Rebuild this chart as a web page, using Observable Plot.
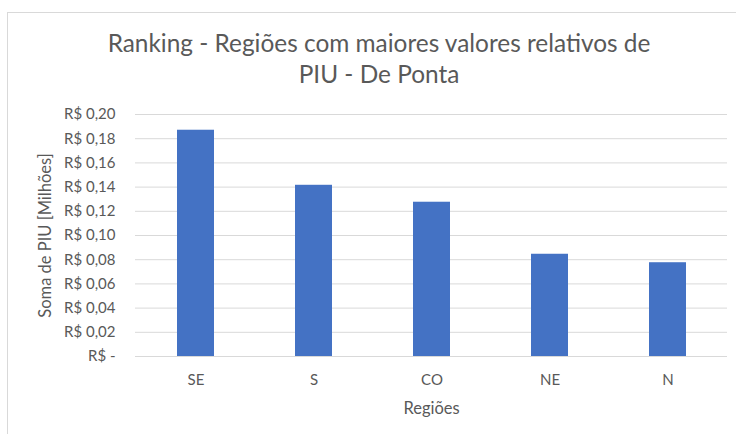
<!DOCTYPE html>
<html>
<head>
<meta charset="utf-8">
<script src="https://cdn.jsdelivr.net/npm/d3@7"></script>
<script src="https://cdn.jsdelivr.net/npm/@observablehq/plot@0.6"></script>
<style>
  html, body { margin: 0; padding: 0; background: #fff; }
  #wrap { position: relative; width: 736px; height: 434px; overflow: hidden; font-family: Lato, "Open Sans", sans-serif; }
  #frame { position: absolute; left: 7px; top: 12px; width: 760px; height: 440px; border-left: 1px solid #d9d9d9; border-top: 1px solid #d9d9d9; }
  #title { position: absolute; left: 7px; width: 744px; top: 27px; text-align: center; color: #595959; font-size: 24.4px; line-height: 31px; }
  #chart { position: absolute; left: 0; top: 0; }
</style>
</head>
<body>
<div id="wrap">
  <div id="frame"></div>
  <div id="chart"></div>
  <div id="title">Ranking - Regiões com maiores valores relativos de<br>PIU - De Ponta</div>
</div>
<script>
const regions = ["SE", "S", "CO", "NE", "N"];
const values = [0.187, 0.1415, 0.1275, 0.0845, 0.0775];
const yTicks = [0, 0.02, 0.04, 0.06, 0.08, 0.10, 0.12, 0.14, 0.16, 0.18, 0.20];

const data = regions.map((r, i) => ({region: r, value: values[i]}));
const fmt = v => v === 0 ? "R$ -" : "R$ " + v.toFixed(2).replace(".", ",");

const chart = Plot.plot({
  width: 736,
  height: 434,
  marginLeft: 135,
  marginRight: 9,
  marginTop: 114,
  marginBottom: 78,
  style: {fontFamily: "Lato, 'Open Sans', sans-serif", background: "transparent", color: "#595959"},
  x: {domain: regions, paddingInner: 0.69, paddingOuter: 0.345, label: null},
  y: {domain: [0, 0.20], label: null},
  marks: [
    Plot.gridY(yTicks, {stroke: "#d9d9d9", strokeOpacity: 1, strokeWidth: 1}),
    Plot.barY(data, {x: "region", y: "value", fill: "#4472C4"}),
    Plot.axisY(yTicks, {tickSize: 0, tickPadding: 20, tickFormat: fmt, fontSize: 15, fill: "#595959",
      label: "Soma de PIU [Milhões]", labelAnchor: "center", labelArrow: "none", labelOffset: 96}),
    Plot.axisX({tickSize: 0, tickPadding: 18, fontSize: 15, fill: "#595959",
      label: "Regiões", labelAnchor: "center", labelArrow: "none", labelOffset: 57})
  ]
});
chart.querySelectorAll("g[aria-label='y-axis label'], g[aria-label='x-axis label']").forEach(g => {
  g.setAttribute("font-size", "16.5");
  g.querySelectorAll("text").forEach(t => t.setAttribute("font-size", "16.5"));
});
document.getElementById("chart").appendChild(chart);
</script>
</body>
</html>
